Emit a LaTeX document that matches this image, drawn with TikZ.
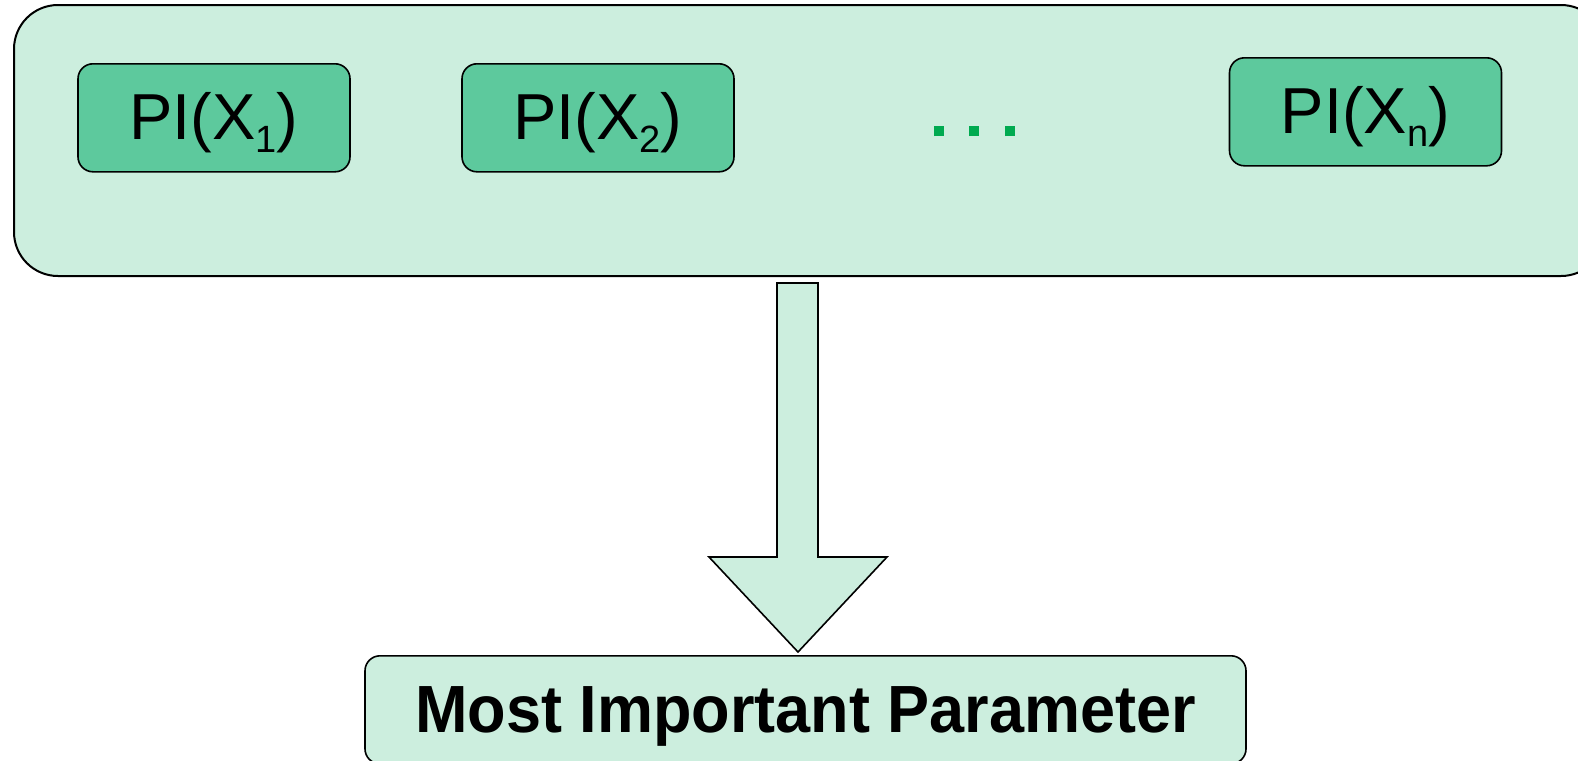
\documentclass[tikz,border=0pt]{standalone}
\usepackage{fontspec}
\setmainfont{Liberation Sans}
\usetikzlibrary{positioning}

\definecolor{mintlight}{RGB}{204,238,222}
\definecolor{mintbox}{RGB}{93,201,157}
\definecolor{dotgreen}{RGB}{0,170,80}

\newcommand{\lowsub}[1]{\raisebox{-6.5pt}{\fontsize{19}{19}\selectfont #1}}

\tikzset{
    groupbox/.style={draw=black, line width=1pt, fill=mintlight, rounded corners=22pt,
        minimum width=795.5pt, minimum height=135.5pt},
    pibox/.style={draw=black, line width=0.8pt, fill=mintbox, rounded corners=7.5pt,
        minimum width=136pt, minimum height=54pt, inner sep=0pt,
        text height=38pt, text depth=16pt, anchor=north,
        font=\fontsize{32.5}{32}\selectfont},
    resultbox/.style={draw=black, line width=0.8pt, fill=mintlight, rounded corners=7.5pt,
        minimum width=440.5pt, minimum height=54pt, inner sep=0pt,
        text height=38.5pt, text depth=15.5pt, anchor=north,
        font=\fontsize{31.5}{32}\selectfont\bfseries},
    blockarrow/.style={draw=black, line width=0.8pt, fill=mintlight, line join=miter}
}

\begin{document}
\begin{tikzpicture}[x=0.5pt, y=-0.5pt]
    \clip (0,0) rectangle (1578,760);
    \fill[white] (0,0) rectangle (1578,760);

    % outer group
    \node[groupbox] (group) at (809.5,140.5) {};

    \foreach \name/\x/\y/\idx in {pione/214/63/1, pitwo/598/63/2, pin/1365.5/57/n}
    {
        \node[pibox] (\name) at (\x,\y) {PI(X\lowsub{\idx})};
    }

    \node (dots) at (974,131) {\textcolor{dotgreen}{\rule{5pt}{5pt}\hspace{12.75pt}\rule{5pt}{5pt}\hspace{12.75pt}\rule{5pt}{5pt}}};

    \node[resultbox] (result) at (805.5,655) {\scalebox{1}[1.06]{Most Important Parameter}};

    % block arrow from group to result
    \coordinate (shafttop) at (797.5,283);
    \coordinate (tip) at (798,652);
    \draw[blockarrow] (shafttop) ++(-20.5,0) -- ++(0,274) -- ++(-68,0) -- (tip)
        -- ++(89,-95) -- ++(-69,0) -- ++(0,-274) -- cycle;

\end{tikzpicture}
\end{document}
